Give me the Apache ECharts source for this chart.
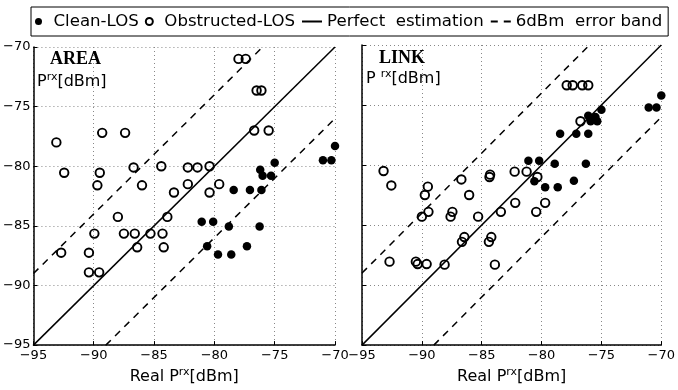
<!DOCTYPE html>
<html>
<head>
<meta charset="utf-8">
<script src="https://cdn.jsdelivr.net/npm/echarts@6/dist/echarts.min.js"></script>
<style>
  html, body { margin: 0; padding: 0; background: #fff; }
  #main { width: 678px; height: 390px; }
</style>
</head>
<body>
<div id="main"></div>
<script>
// measured vs real received power, [real, measured] in dBm
const areaClean = [
  [-70.0, -78.3], [-71.0, -79.5], [-70.3, -79.5], [-75.0, -79.7], [-76.2, -80.3],
  [-76.0, -80.8], [-75.3, -80.8], [-78.4, -82.0], [-77.05, -82.0], [-76.1, -82.0],
  [-81.05, -84.65], [-80.1, -84.65], [-78.8, -85.05], [-76.25, -85.05], [-80.6, -86.7],
  [-79.7, -87.4], [-78.6, -87.4], [-77.3, -86.7]
]
const areaObstructed = [
  [-93.1, -78.0], [-89.3, -77.2], [-87.4, -77.2], [-92.45, -80.55], [-89.5, -80.55],
  [-89.7, -81.6], [-86.0, -81.6], [-86.7, -80.1], [-84.4, -80.0], [-82.2, -80.1],
  [-81.4, -80.1], [-80.4, -80.0], [-82.2, -81.5], [-80.4, -82.2], [-79.6, -81.5],
  [-83.35, -82.2], [-78.0, -71.0], [-77.4, -71.0], [-76.5, -73.65], [-76.1, -73.65],
  [-76.7, -77.0], [-75.5, -77.0], [-88.0, -84.25], [-83.9, -84.25], [-89.95, -85.65],
  [-87.5, -85.65], [-86.6, -85.65], [-85.3, -85.65], [-84.3, -85.65], [-86.4, -86.8],
  [-84.2, -86.8], [-92.7, -87.25], [-90.4, -87.25], [-90.4, -88.9], [-89.55, -88.9]
]
const linkClean = [
  [-70.0, -74.2], [-71.05, -75.2], [-70.4, -75.2], [-75.0, -75.4], [-76.1, -75.9],
  [-75.9, -76.35], [-75.35, -76.35], [-75.5, -76.0], [-78.45, -77.4], [-77.1, -77.4],
  [-76.1, -77.4], [-81.1, -79.65], [-80.2, -79.65], [-78.9, -79.9], [-76.3, -79.9],
  [-80.6, -81.35], [-79.7, -81.85], [-78.65, -81.85], [-77.3, -81.3]
]
const linkObstructed = [
  [-93.2, -80.5], [-92.55, -81.7], [-89.5, -81.8], [-89.75, -82.5], [-86.7, -81.2],
  [-86.05, -82.5], [-84.35, -81.0], [-84.3, -80.8], [-82.25, -80.55], [-81.25, -80.55],
  [-80.35, -81.0], [-82.2, -83.15], [-83.4, -83.9], [-80.45, -83.9], [-79.7, -83.15],
  [-77.9, -73.35], [-77.4, -73.35], [-76.6, -73.35], [-76.1, -73.35], [-76.75, -76.35],
  [-89.45, -83.9], [-90.0, -84.3], [-87.45, -83.9], [-87.6, -84.3], [-85.3, -84.3],
  [-86.45, -86.0], [-86.65, -86.4], [-84.2, -86.0], [-84.4, -86.4], [-92.7, -88.05],
  [-90.5, -88.05], [-90.35, -88.25], [-89.6, -88.25], [-88.1, -88.3], [-83.9, -88.3]
]
const axisMin = -95
const axisMax = -70
const band = 6

const names = ['Clean-LOS', 'Obstructed-LOS', 'Perfect  estimation', '6dBm  error band']

// reference lines, clipped to the axis box
const perfect = [[axisMin, axisMin], [axisMax, axisMax]]
const upper = [[axisMin, axisMin + band], [axisMax - band, axisMax]]
const lower = [[axisMin + band, axisMin], [axisMax, axisMax - band]]

const font = 'DejaVu Sans'
const minus = v => (v < 0 ? '\u2212' : '') + Math.abs(v)
const supRich = {
  n: { fontSize: 16, fontFamily: font, fontWeight: 'normal', color: '#000', verticalAlign: 'bottom' },
  s: { fontSize: 11, fontFamily: font, fontWeight: 'normal', color: '#000', verticalAlign: 'bottom', padding: [0, 0, 7, 0] }
}
const serifBold = { fontFamily: 'Liberation Serif', fontWeight: 'bold', fontSize: 18, color: '#000' }

function xAxis(i) {
  return {
    type: 'value', gridIndex: i, min: axisMin, max: axisMax, interval: 5,
    name: '{n|Real P}{s|rx}{n|[dBm]}',
    nameLocation: 'middle', nameGap: 18,
    nameTextStyle: { rich: supRich },
    axisLine: { lineStyle: { color: '#000', width: 1.5 } },
    axisTick: { inside: true, length: 4, lineStyle: { color: '#000' } },
    axisLabel: { color: '#000', fontSize: 13, fontFamily: font, margin: 4, formatter: minus },
    splitLine: { lineStyle: { color: '#888', type: [1, 3] } }
  }
}
function yAxis(i, labels) {
  return {
    type: 'value', gridIndex: i, min: axisMin, max: axisMax, interval: 5,
    axisLine: { show: true, onZero: false, lineStyle: { color: '#000', width: 1.5 } },
    axisTick: { show: true, inside: true, length: 4, lineStyle: { color: '#000' } },
    axisLabel: { show: labels, color: '#000', fontSize: 13, fontFamily: font, margin: 3, formatter: minus },
    splitLine: { lineStyle: { color: '#888', type: [1, 3] } }
  }
}
function panel(i, clean, obstructed) {
  return [
    {
      name: names[2], type: 'line', xAxisIndex: i, yAxisIndex: i, data: perfect,
      symbol: 'none', itemStyle: { color: '#000' }, lineStyle: { color: '#000', width: 1.5 }, z: 2
    },
    {
      name: names[3], type: 'line', xAxisIndex: i, yAxisIndex: i, data: upper,
      symbol: 'none', itemStyle: { color: '#000' }, lineStyle: { color: '#000', width: 1.5, type: [7, 6] }, z: 2
    },
    {
      name: names[3], type: 'line', xAxisIndex: i, yAxisIndex: i, data: lower,
      symbol: 'none', itemStyle: { color: '#000' }, lineStyle: { color: '#000', width: 1.5, type: [7, 6] }, z: 2
    },
    {
      name: names[0], type: 'scatter', xAxisIndex: i, yAxisIndex: i, data: clean,
      symbolSize: 8.5, itemStyle: { color: '#000', opacity: 1 }, z: 3
    },
    {
      name: names[1], type: 'scatter', xAxisIndex: i, yAxisIndex: i, data: obstructed,
      symbolSize: 8.5,
      itemStyle: { color: 'rgba(0,0,0,0)', borderColor: '#000', borderWidth: 1.9, opacity: 1 }, z: 3
    }
  ]
}

const option = {
  animation: false,
  backgroundColor: '#fff',
  legend: {
    data: [
      { name: names[0] },
      { name: names[1] },
      { name: names[2], itemStyle: { opacity: 0 } },
      { name: names[3], itemStyle: { opacity: 0 } }
    ],
    left: 31, top: 7, width: 800,
    padding: [6, 6, 6, 4],
    itemGap: 6,
    itemWidth: 20,
    itemHeight: 7,
    borderColor: '#000',
    borderWidth: 1,
    textStyle: { color: '#000', fontSize: 16.6, fontFamily: font }
  },
  title: [
    { text: 'AREA', left: 50, top: 50, padding: 0, textStyle: serifBold },
    { text: '{n|P}{s|rx}{n|[dBm]}', left: 37, top: 72, padding: 0, textStyle: { rich: supRich } },
    { text: 'LINK', left: 379, top: 49, padding: 0, textStyle: serifBold },
    { text: '{n|P }{s|rx}{n|[dBm]}', left: 366, top: 69, padding: 0, textStyle: { rich: supRich } }
  ],
  grid: [
    { left: 33, top: 47, width: 302, height: 304 },
    { left: 362, top: 45, width: 307, height: 305 }
  ],
  xAxis: [xAxis(0), xAxis(1)],
  yAxis: [yAxis(0, true), yAxis(1, false)],
  series: [...panel(0, areaClean, areaObstructed), ...panel(1, linkClean, linkObstructed)]
}

const chart = echarts.init(document.getElementById('main'))
chart.setOption(option)
</script>
</body>
</html>
